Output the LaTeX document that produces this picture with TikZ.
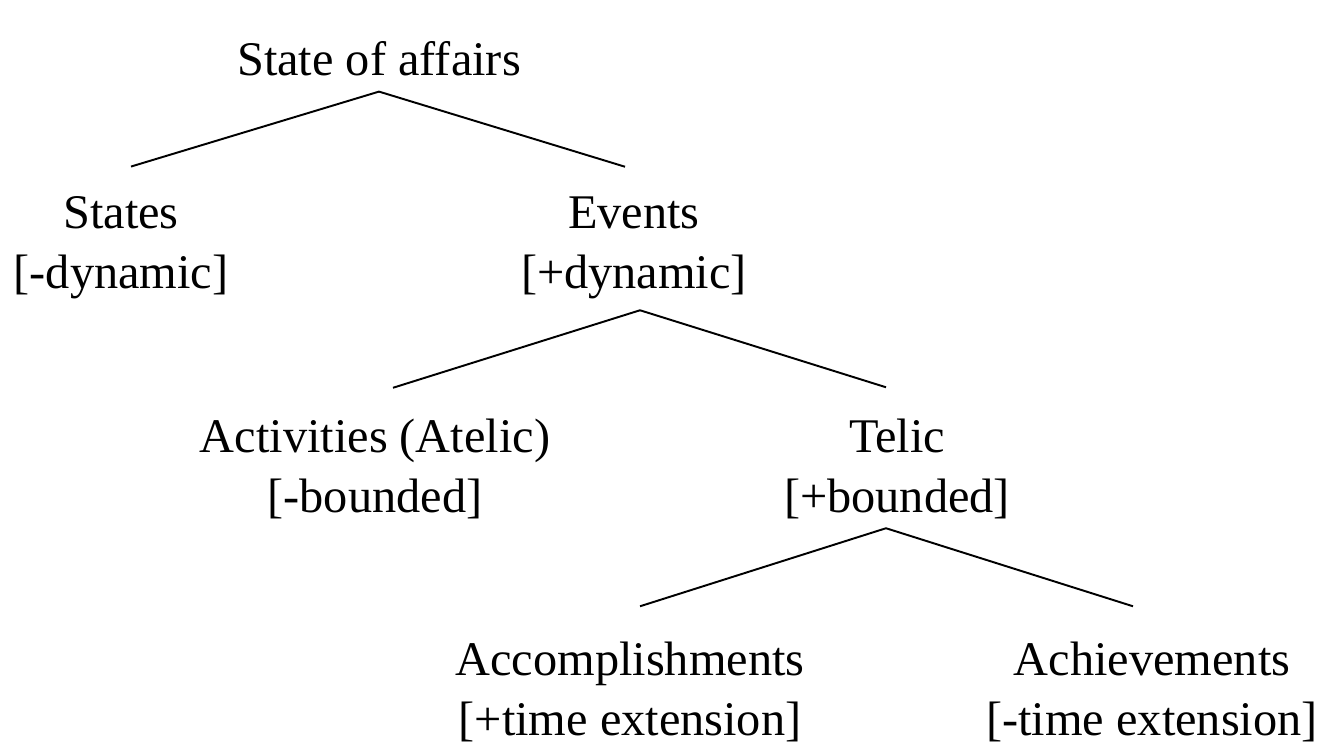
\documentclass[tikz,border=0pt]{standalone}
\usepackage{fontspec}
\setmainfont{Liberation Serif}
\usetikzlibrary{positioning}
\tikzset{
  cat/.style={align=center, inner sep=0pt, font=\fontsize{27.5}{34}\selectfont},
  branch/.style={draw, line width=1.1pt}
}

\begin{document}
\begin{tikzpicture}
  \useasboundingbox (0,0) rectangle (26.8,-15.1);
  \node[cat] (affairs) at (7.58,-1.18) {State of affairs};
  \node[cat] (states) at (2.42,-4.96) {States\\{[-dynamic]}};
  \node[cat] (events) at (12.68,-4.96) {Events\\{[+dynamic]}};
  \node[cat] (activities) at (7.5,-9.38) {Activities (Atelic)\\{[-bounded]}};
  \node[cat] (telic) at (17.94,-9.38) {Telic\\{[+bounded]}};
  \node[cat] (accompl) at (12.6,-13.84) {Accomplishments\\{[+time extension]}};
  \node[cat] (achieve) at (23.04,-13.84) {Achievements\\{[-time extension]}};
  % level 1
  \draw[branch] ([yshift=-0.3cm]affairs.south) -- ([xshift=0.2cm,yshift=0.6cm]states.north);
  \draw[branch] ([yshift=-0.3cm]affairs.south) -- ([xshift=-0.18cm,yshift=0.6cm]events.north);
  % level 2
  \draw[branch] ([xshift=0.12cm,yshift=-0.22cm]events.south) -- ([xshift=0.36cm,yshift=0.62cm]activities.north);
  \draw[branch] ([xshift=0.12cm,yshift=-0.22cm]events.south) -- ([xshift=-0.22cm,yshift=0.63cm]telic.north);
  % level 3
  \draw[branch] ([xshift=-0.22cm,yshift=-0.18cm]telic.south) -- ([xshift=0.2cm,yshift=0.71cm]accompl.north);
  \draw[branch] ([xshift=-0.22cm,yshift=-0.18cm]telic.south) -- ([xshift=-0.38cm,yshift=0.71cm]achieve.north);
\end{tikzpicture}
\end{document}
